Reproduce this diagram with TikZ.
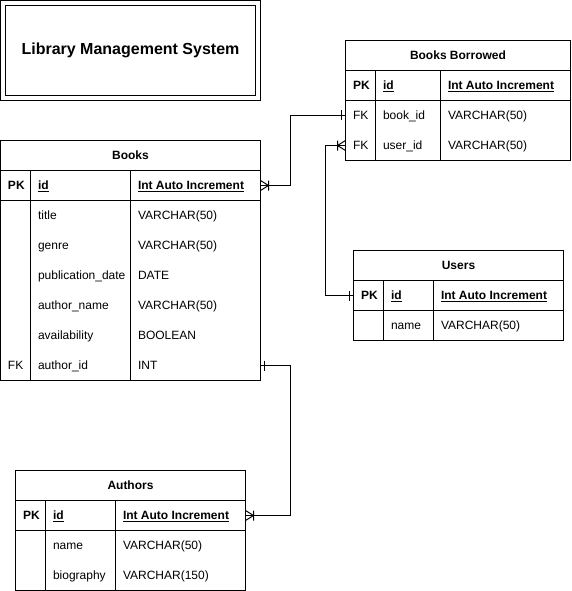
\documentclass[tikz,border=0pt]{standalone}
\usepackage{fontspec}
\setmainfont{Liberation Sans}
\usetikzlibrary{positioning,decorations.markings}

\begin{document}
\begin{tikzpicture}[x=1pt,y=-1pt,line width=1pt,
  font=\fontsize{12}{14}\selectfont,
  tblbox/.style={draw,rectangle,inner sep=0pt,outer sep=0pt,minimum height=30pt},
  tblhead/.style={tblbox,font=\fontsize{12}{14}\selectfont\bfseries},
  txt/.style={anchor=west,inner sep=0pt,text height=8.6pt,text depth=0pt},
  key/.style={txt,font=\fontsize{12}{14}\selectfont\bfseries},
  relation/.style={postaction={decorate},decoration={markings,
    mark=at position 8pt with {\draw (0,-5pt) -- (0,5pt) (-8pt,5pt) -- (0,0) -- (-8pt,-5pt);},
    mark=at position -4pt with {\draw (0,-5pt) -- (0,5pt);}}}]
\useasboundingbox (-0.5,-0.5) rectangle (570.5,590.5);

% title
\node[draw,double,double distance=4pt,inner sep=0pt,minimum width=255pt,minimum height=95pt,
  font=\fontsize{16}{19}\selectfont\bfseries] (title) at (130,50) {Library Management System};

% Books
\node[tblhead,minimum width=260pt] (books) at (130,155) {Books};
\node[tblbox,minimum width=260pt,below=0pt of books] (books pk) {};
\node[tblbox,minimum width=260pt,minimum height=180pt,below=0pt of books pk] (books body) {};
\draw ([xshift=30pt]books pk.north west) -- ([xshift=30pt]books body.south west)
      ([xshift=130pt]books pk.north west) -- ([xshift=130pt]books body.south west);
\node[key] (books pk key) at (7,185) {PK};
\node[key] (books id) at (37,185) {\underline{id}};
\node[key] (books id type) at (137,185) {\underline{Int Auto Increment}};
\foreach \name/\type [count=\i] in {title/VARCHAR(50),genre/VARCHAR(50),publication\_date/DATE,
    author\_name/VARCHAR(50),availability/BOOLEAN,author\_id/INT}{
  \node[txt] (books name \i) at (37,{185+30*\i}) {\name};
  \node[txt] (books type \i) at (137,{185+30*\i}) {\type};
}
\node[txt] (books fk) at (7,365) {FK};

% Books Borrowed
\node[tblhead,minimum width=225pt] (bb) at (457.5,55) {Books Borrowed};
\node[tblbox,minimum width=225pt,below=0pt of bb] (bb pk) {};
\node[tblbox,minimum width=225pt,minimum height=60pt,below=0pt of bb pk] (bb body) {};
\draw ([xshift=30pt]bb pk.north west) -- ([xshift=30pt]bb body.south west)
      ([xshift=95pt]bb pk.north west) -- ([xshift=95pt]bb body.south west);
\node[key] (bb pk key) at (352,85) {PK};
\node[key] (bb id) at (382,85) {\underline{id}};
\node[key] (bb id type) at (447,85) {\underline{Int Auto Increment}};
\node[txt] (bb fk1) at (352,115) {FK};
\node[txt] (bb book) at (382,115) {book\_id};
\node[txt] (bb book type) at (447,115) {VARCHAR(50)};
\node[txt] (bb fk2) at (352,145) {FK};
\node[txt] (bb user) at (382,145) {user\_id};
\node[txt] (bb user type) at (447,145) {VARCHAR(50)};

% Users
\node[tblhead,minimum width=210pt] (users) at (458,265) {Users};
\node[tblbox,minimum width=210pt,below=0pt of users] (users pk) {};
\node[tblbox,minimum width=210pt,below=0pt of users pk] (users body) {};
\draw ([xshift=30pt]users pk.north west) -- ([xshift=30pt]users body.south west)
      ([xshift=80pt]users pk.north west) -- ([xshift=80pt]users body.south west);
\node[key] (users pk key) at (360,295) {PK};
\node[key] (users id) at (390,295) {\underline{id}};
\node[key] (users id type) at (440,295) {\underline{Int Auto Increment}};
\node[txt] (users name) at (390,325) {name};
\node[txt] (users name type) at (440,325) {VARCHAR(50)};

% Authors
\node[tblhead,minimum width=230pt] (authors) at (130,485) {Authors};
\node[tblbox,minimum width=230pt,below=0pt of authors] (authors pk) {};
\node[tblbox,minimum width=230pt,minimum height=60pt,below=0pt of authors pk] (authors body) {};
\draw ([xshift=30pt]authors pk.north west) -- ([xshift=30pt]authors body.south west)
      ([xshift=100pt]authors pk.north west) -- ([xshift=100pt]authors body.south west);
\node[key] (authors pk key) at (22,515) {PK};
\node[key] (authors id) at (52,515) {\underline{id}};
\node[key] (authors id type) at (122,515) {\underline{Int Auto Increment}};
\node[txt] (authors name) at (52,545) {name};
\node[txt] (authors name type) at (122,545) {VARCHAR(50)};
\node[txt] (authors bio) at (52,575) {biography};
\node[txt] (authors bio type) at (122,575) {VARCHAR(150)};

% relations
\draw[relation] (books pk.east) -- ++(30,0) |- (bb body.west |- bb fk1);
\draw[relation] (bb body.west |- bb fk2) -- ++(-20,0) |- (users pk.west);
\draw[relation] (authors pk.east) -- ++(45,0) |- (books body.east |- books fk);

\end{tikzpicture}
\end{document}
